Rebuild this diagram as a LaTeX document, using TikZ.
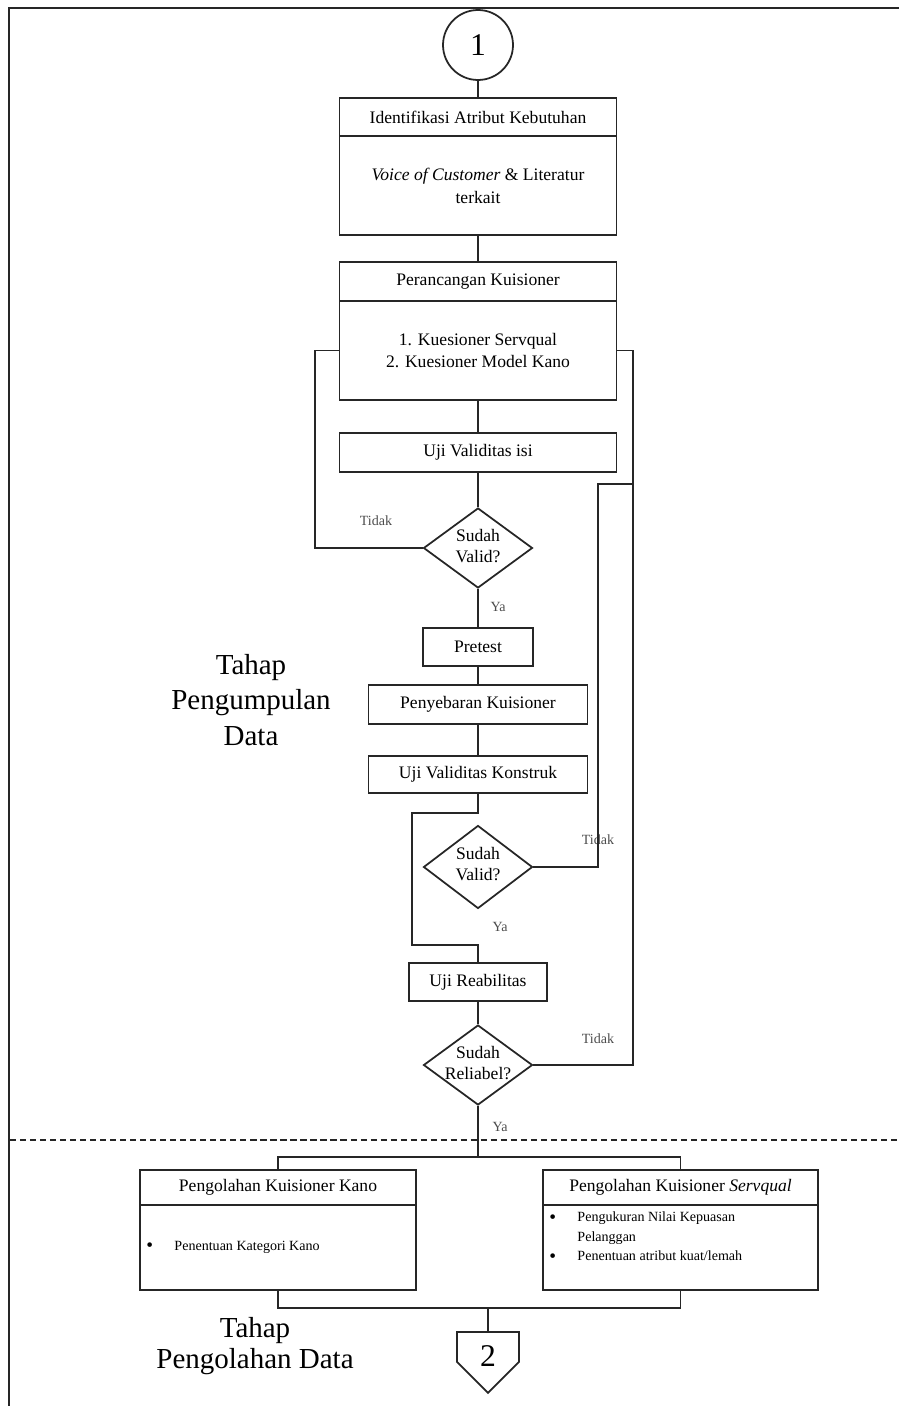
\documentclass[tikz,border=0pt]{standalone}
\usepackage{fontspec}
\setmainfont{Liberation Serif}
\usetikzlibrary{shapes.geometric,shapes.symbols}
\colorlet{lineInk}{black!85}
\colorlet{answerInk}{black!70}
\tikzstyle{flowLine}=[draw=lineInk,line width=1pt]
\tikzstyle{procBox}=[rectangle,draw=lineInk,line width=1pt,inner sep=0pt,align=center,font=\fontsize{10}{13}\selectfont]
\tikzstyle{decisionShape}=[diamond,draw=lineInk,line width=1pt,inner sep=0pt,minimum width=2.18cm,minimum height=1.6cm]
\tikzstyle{decisionLabel}=[align=center,font=\fontsize{10}{12}\selectfont]
\tikzstyle{answerLabel}=[text=answerInk,font=\fontsize{8}{9}\selectfont]
\tikzstyle{stageLabel}=[align=center,font=\fontsize{16.5}{20.4}\selectfont]
\tikzstyle{pointText}=[inner sep=0pt,align=left,font=\fontsize{8}{11}\selectfont]

\begin{document}
\begin{tikzpicture}[x=0.02cm,y=-0.02cm]
\newcommand{\Wide}{5.54cm}
\newcommand{\Pt}[1]{\makebox[16pt][l]{\raisebox{-1pt}{\fontsize{11}{11}\selectfont#1}}}
        \useasboundingbox (0,0) rectangle (899,1406);
        \draw[flowLine,line width=1.1pt] (9,1406) -- (9,8) -- (899,8);
        \draw[flowLine,dash pattern=on 3.5pt off 2.2pt] (10,1140) -- (899,1140);
        \node[circle,draw=lineInk,line width=1pt,minimum size=1.4cm,font=\fontsize{18}{20}\selectfont] 
        (startOne) at (478,45) 
        {1};
        \node[procBox,minimum width=\Wide,minimum height=0.76cm] 
        (identHead) at (478,117) 
        {Identifikasi Atribut Kebutuhan};
        \node[procBox,minimum width=\Wide,minimum height=1.98cm] 
        (identBody) at (478,185.5) 
        {\textit{Voice of Customer} \& Literatur\\terkait};
        \node[procBox,minimum width=\Wide,minimum height=0.78cm] 
        (designHead) at (478,281.5) 
        {Perancangan Kuisioner};
        \node[procBox,minimum width=\Wide,minimum height=1.98cm] 
        (designBody) at (478,350.5) 
        {1. Kuesioner Servqual\\2. Kuesioner Model Kano};
        \node[procBox,minimum width=\Wide,minimum height=0.78cm] 
        (contentCheck) at (478,452.5) 
        {Uji Validitas isi};
        \node[decisionShape] 
        (validOne) at (478,548) 
        {};
        \node[decisionLabel] 
        (validOneText) at (478,546) 
        {Sudah\\Valid?};
        \node[procBox,minimum width=2.2cm,minimum height=0.76cm] 
        (pretest) at (478,647) 
        {Pretest};
        \node[procBox,minimum width=4.38cm,minimum height=0.78cm] 
        (spread) at (478,704.5) 
        {Penyebaran Kuisioner};
        \node[procBox,minimum width=4.38cm,minimum height=0.74cm] 
        (constructCheck) at (478,774.5) 
        {Uji Validitas Konstruk};
        \node[decisionShape,minimum height=1.66cm] 
        (validTwo) at (478,867) 
        {};
        \node[decisionLabel] 
        (validTwoText) at (478,864) 
        {Sudah\\Valid?};
        \node[procBox,minimum width=2.76cm,minimum height=0.76cm] 
        (reliability) at (478,982) 
        {Uji Reabilitas};
        \node[decisionShape] 
        (reliableQ) at (478,1065) 
        {};
        \node[decisionLabel] 
        (reliableQText) at (478,1063) 
        {Sudah\\Reliabel?};
        \node[procBox,minimum width=5.52cm,minimum height=0.7cm] 
        (kanoHead) at (278,1187.5) 
        {Pengolahan Kuisioner Kano};
        \node[procBox,minimum width=5.52cm,minimum height=1.7cm] 
        (kanoBody) at (278,1247.5) 
        {};
        \node[procBox,minimum width=5.5cm,minimum height=0.7cm] 
        (servHead) at (680.5,1187.5) 
        {Pengolahan Kuisioner \textit{Servqual}};
        \node[procBox,minimum width=5.5cm,minimum height=1.7cm] 
        (servBody) at (680.5,1247.5) 
        {};
        \node[pointText,anchor=west] 
        (kanoPoint) at (146,1247) 
        {\Pt{\textbullet}Penentuan Kategori Kano};
        \node[pointText,anchor=west] 
        (servPoint) at (549,1237) 
        {\Pt{\textbullet}Pengukuran Nilai Kepuasan\\\Pt{}Pelanggan\\\Pt{\textbullet}Penentuan atribut kuat/lemah};
        \node[signal,signal to=south,signal pointer angle=90,draw=lineInk,line width=1pt,minimum width=1.24cm,minimum height=0.6cm,inner sep=0pt,anchor=north] 
        (offTwo) at (488,1331) 
        {};
        \node[font=\fontsize{18}{20}\selectfont] 
        (offTwoText) at (488,1356) 
        {2};
        \node[answerLabel] (noOne) at (376,521) {Tidak};
        \node[answerLabel] (yesOne) at (498,607) {Ya};
        \node[answerLabel] (noTwo) at (598,840) {Tidak};
        \node[answerLabel] (yesTwo) at (500,927) {Ya};
        \node[answerLabel] (noThree) at (598,1039) {Tidak};
        \node[answerLabel] (yesThree) at (500,1127) {Ya};
        \node[stageLabel] 
        (stageCollect) at (251,700) 
        {Tahap\\Pengumpulan\\Data};
        \node[stageLabel,font=\fontsize{16.5}{18}\selectfont] 
        (stageProcess) at (255,1346) 
        {Tahap\\Pengolahan Data};
        \coordinate (leftBack) at (315,548);
        \coordinate (skipTop) at (412,813);
        \coordinate (skipBottom) at (412,945);
        \coordinate (innerTop) at (598,484);
        \coordinate (outerJoin) at (633,484);
        \coordinate (outerTop) at (633,350.5);
        \coordinate (splitPoint) at (478,1157);
        \coordinate (joinPoint) at (488,1308);
        \draw[flowLine] (startOne) -- (identHead);
        \draw[flowLine] (identBody) -- (designHead);
        \draw[flowLine] (designBody) -- (contentCheck);
        \draw[flowLine] (contentCheck) -- (validOne);
        \draw[flowLine] (validOne.west) -- (leftBack) |- (designBody.west);
        \draw[flowLine] (validOne) -- (pretest);
        \draw[flowLine] (pretest) -- (spread);
        \draw[flowLine] (spread) -- (constructCheck);
        \draw[flowLine] (constructCheck.south) |- (skipTop) -- (skipBottom) -| (reliability.north);
        \draw[flowLine] (validTwo.east) -| (innerTop) -- (outerJoin);
        \draw[flowLine] (reliability) -- (reliableQ);
        \draw[flowLine] (reliableQ.east) -| (outerTop) -- (designBody.east);
        \draw[flowLine] (reliableQ.south) -- (splitPoint);
        \draw[flowLine] (kanoHead.north) |- (splitPoint) -| (servHead.north);
        \draw[flowLine] (kanoBody.south) |- (joinPoint) -| (servBody.south);
        \draw[flowLine] (joinPoint) -- (offTwo.north);
\end{tikzpicture}
\end{document}
